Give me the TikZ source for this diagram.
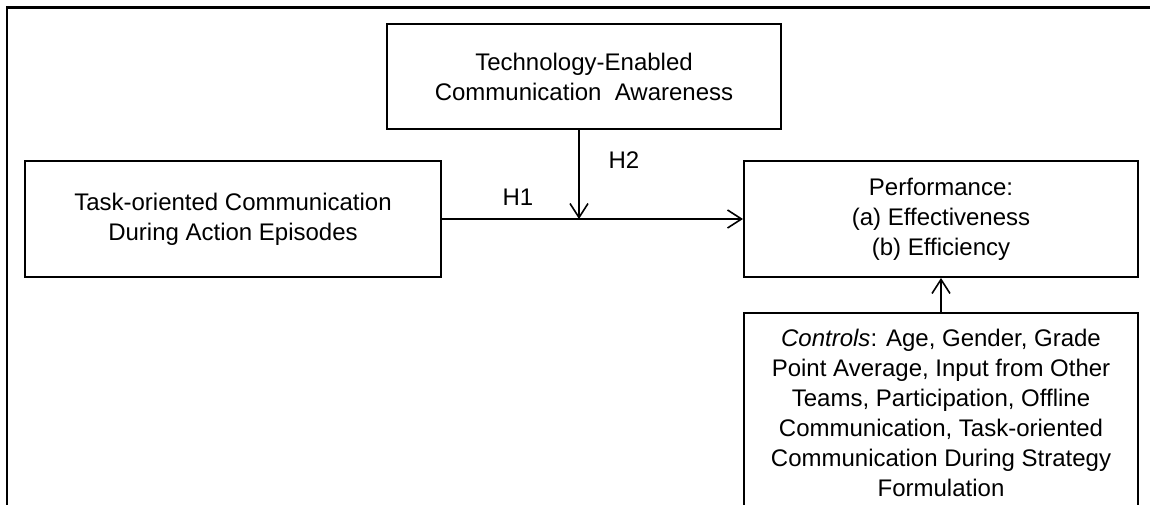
\documentclass[tikz,border=0pt]{standalone}
\usepackage{fontspec}
\setmainfont{Liberation Sans}
\usetikzlibrary{arrows.meta}
\begin{document}
\begin{tikzpicture}[x=1pt,y=-1pt,
  box/.style={draw=black,line width=2pt,inner sep=0pt,align=center,
    minimum width=394pt,font=\fontsize{24}{30}\selectfont},
  conn/.style={line width=1.6pt,-{Straight Barb[length=14pt,width=18pt,line width=1.6pt]}},
  lab/.style={font=\fontsize{24}{30}\selectfont,inner sep=0pt}]
\clip (0,0) rectangle (1150,504);
\fill[white] (0,0) rectangle (1150,504);
\draw[line width=2.5pt] (7,600) -- (7,7.5) -- (1200,7.5);
\node[box,minimum height=105pt] (top) at (584,76.5) {Technology-Enabled\\Communication\ \ Awareness};
\node[box,minimum width=416pt,minimum height=116pt] (left) at (233,219) {Task-oriented Communication\\During Action Episodes};
\node[box,minimum height=116pt] (perf) at (941,219) {Performance:\\(a) Effectiveness\\(b) Efficiency};
\node[box,minimum height=200pt] (ctrl) at (941,413) {\textit{Controls}: Age, Gender, Grade\\Point Average, Input from Other\\Teams, Participation, Offline\\Communication, Task-oriented\\Communication During Strategy\\Formulation};
\coordinate (m) at (579,219);
\draw[conn] (left.east) -- (perf.west);
\draw[conn] (top.south -| m) -- (m);
\draw[conn] (ctrl.north) -- (perf.south);
\node[lab] (h1) at (518,197) {H1};
\node[lab] (h2) at (624,160) {H2};
\end{tikzpicture}
\end{document}
